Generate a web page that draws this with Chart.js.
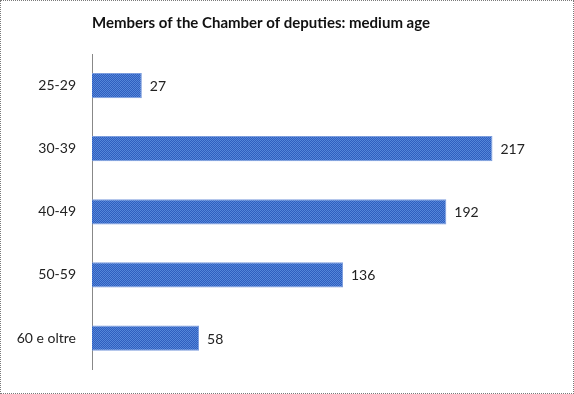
<!DOCTYPE html>
<html>
<head>
<meta charset="utf-8">
<script src="https://cdn.jsdelivr.net/npm/chart.js@4/dist/chart.umd.min.js"></script>
<style>
html,body{margin:0;padding:0;background:#fff;}
#wrap{position:relative;width:574px;height:394px;}
#frame{position:absolute;left:0;top:0;width:574px;height:394px;box-sizing:border-box;border:1px dotted #7a7a7a;pointer-events:none;}
canvas{display:block;}
</style>
</head>
<body>
<div id="wrap">
<canvas id="c" width="574" height="394"></canvas>
<div id="frame"></div>
</div>
<script>
const titleText = "Members of the Chamber of deputies: medium age";
const categories = ["25-29", "30-39", "40-49", "50-59", "60 e oltre"];
const members = [27, 217, 192, 136, 58];

function makePattern() {
  const p = document.createElement('canvas');
  p.width = 2; p.height = 2;
  const g = p.getContext('2d');
  g.fillStyle = '#2F5EBF'; g.fillRect(0, 0, 2, 2);
  g.fillStyle = '#5486D9'; g.fillRect(0, 0, 1, 1); g.fillRect(1, 1, 1, 1);
  return g.createPattern(p, 'repeat');
}

const valueLabels = {
  id: 'valueLabels',
  afterDatasetsDraw(chart) {
    const ctx = chart.ctx;
    const meta = chart.getDatasetMeta(0);
    ctx.save();
    ctx.font = '14px Lato';
    ctx.fillStyle = '#222';
    ctx.textAlign = 'left';
    ctx.textBaseline = 'middle';
    meta.data.forEach((bar, i) => {
      ctx.fillText(String(members[i]), bar.x + 8, bar.y + 1);
    });
    ctx.restore();
  }
};

new Chart(document.getElementById('c'), {
  type: 'bar',
  data: {
    labels: categories,
    datasets: [{
      data: members,
      backgroundColor: makePattern(),
      borderColor: '#7C9DDD',
      borderWidth: 1,
      categoryPercentage: 1,
      barPercentage: 0.4
    }]
  },
  options: {
    indexAxis: 'y',
    responsive: false,
    animation: false,
    layout: { padding: { left: 0, right: 52, top: 0, bottom: 9 } },
    plugins: {
      legend: { display: false },
      tooltip: { enabled: false },
      title: {
        display: true,
        text: titleText,
        color: '#111',
        font: { family: 'Lato', size: 15, weight: 'bold' },
        padding: { top: 14, bottom: 22 }
      }
    },
    scales: {
      x: {
        display: false,
        min: 0,
        max: 233
      },
      y: {
        grid: { display: false, drawTicks: false },
        border: { display: true, color: '#888', width: 1 },
        ticks: {
          color: '#222',
          padding: 16,
          font: { family: 'Lato', size: 14 }
        },
        afterFit(scale) { scale.width = 92; }
      }
    }
  },
  plugins: [valueLabels]
});
</script>
</body>
</html>
